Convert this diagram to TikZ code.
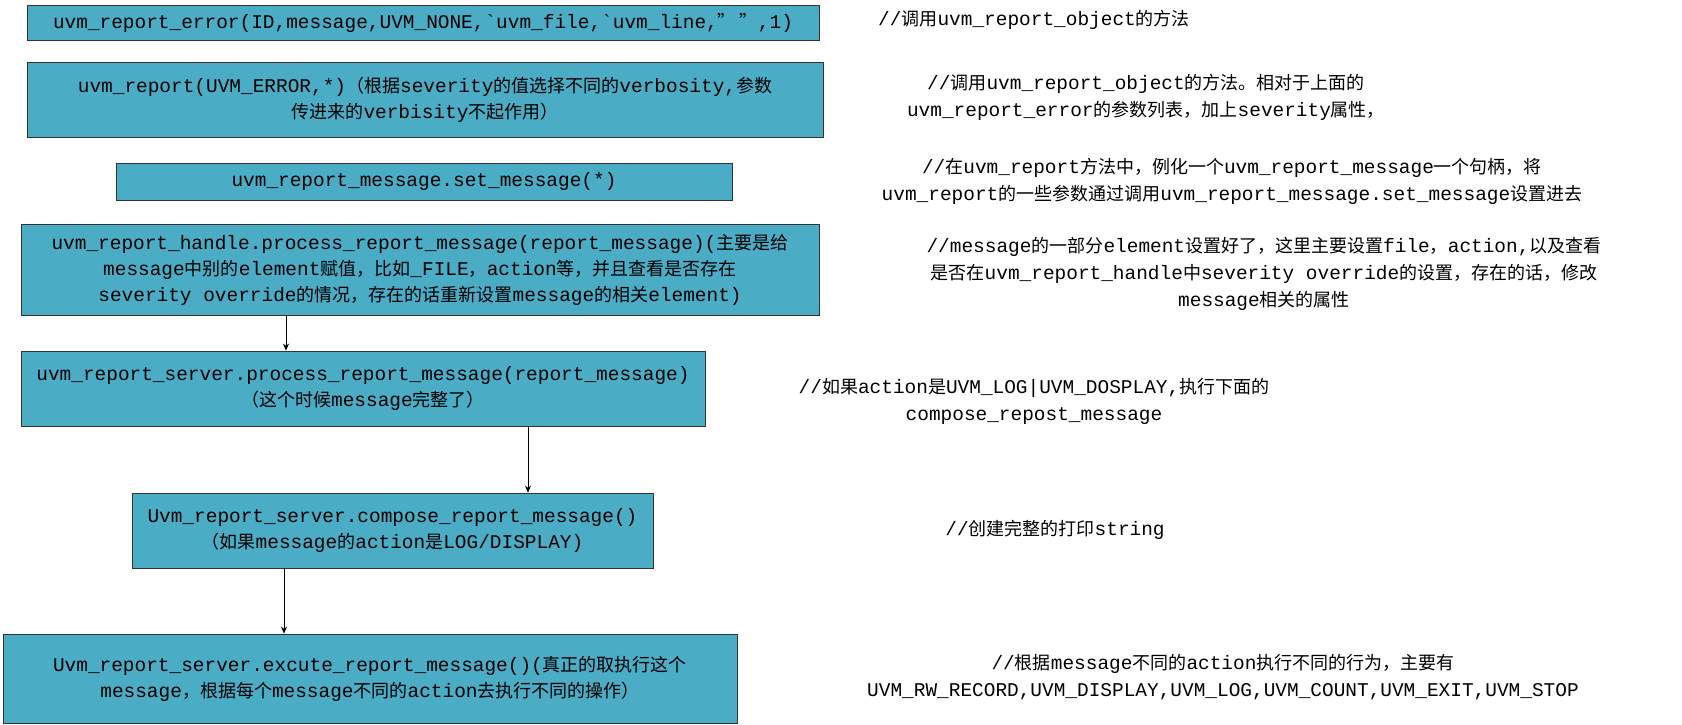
\documentclass[tikz,border=0pt]{standalone}
\usetikzlibrary{arrows.meta}
\usepackage{fontspec}
\setmonofont[Scale=1.08]{Liberation Mono}
\newfontfamily\zh{Noto Sans CJK SC}
\begin{document}
\begin{tikzpicture}[x=1pt,y=-1pt,
  box/.style={draw=black!80,line width=0.8pt,fill=boxc,inner sep=0pt,align=center,font=\ttfamily\fontsize{18}{26}\selectfont},
  note/.style={align=center,inner sep=0pt,font=\ttfamily\fontsize{18}{27}\selectfont},
  arr/.style={-{Stealth[length=7pt,width=6pt]},line width=0.8pt}]
\definecolor{boxc}{HTML}{4BACC6}
\useasboundingbox (0,0) rectangle (1682,724);
\node[box,minimum width=792,minimum height=35] (b1) at (423,22.5) {uvm\_report\_error(ID,message,UVM\_NONE,`uvm\_file,`uvm\_line,{\zh ” ”},1)};
\node[box,minimum width=796,minimum height=75] (b2) at (425,99.5) {uvm\_report(UVM\_ERROR,*){\zh （根据}severity{\zh 的值选择不同的}verbosity,{\zh 参数}\\{\zh 传进来的}verbisity{\zh 不起作用）}};
\node[box,minimum width=616,minimum height=37] (b3) at (424,181.5) {uvm\_report\_message.set\_message(*)};
\node[box,minimum width=798,minimum height=91] (b4) at (420,269.5) {uvm\_report\_handle.process\_report\_message(report\_message)({\zh 主要是给}\\message{\zh 中别的}element{\zh 赋值，比如}\_FILE{\zh ，}action{\zh 等，并且查看是否存在}\\severity override{\zh 的情况，存在的话重新设置}message{\zh 的相关}element)};
\node[box,minimum width=684,minimum height=75] (b5) at (363,388.5) {uvm\_report\_server.process\_report\_message(report\_message)\\{\zh （这个时候}message{\zh 完整了）}};
\node[box,minimum width=521,minimum height=75] (b6) at (392.5,530.5) {Uvm\_report\_server.compose\_report\_message()\\{\zh （如果}message{\zh 的}action{\zh 是}LOG/DISPLAY)};
\node[box,minimum width=734,minimum height=89] (b7) at (370,678.5) {Uvm\_report\_server.excute\_report\_message()({\zh 真正的取执行这个}\\message{\zh ，根据每个}message{\zh 不同的}action{\zh 去执行不同的操作）}};
\coordinate (x1) at (286,0);
\coordinate (x2) at (528,0);
\coordinate (x3) at (284,0);
\draw[arr] (x1 |- b4.south) -- (x1 |- b5.north);
\draw[arr] (x2 |- b5.south) -- (x2 |- b6.north);
\draw[arr] (x3 |- b6.south) -- (x3 |- b7.north);
\node[note,anchor=west] (t1) at (878,20) {//{\zh 调用}uvm\_report\_object{\zh 的方法}};
\node[note] (t2) at (1146,97) {//{\zh 调用}uvm\_report\_object{\zh 的方法。相对于上面的}\\uvm\_report\_error{\zh 的参数列表，加上}severity{\zh 属性，}};
\node[note] (t3) at (1232,181) {//{\zh 在}uvm\_report{\zh 方法中，例化一个}uvm\_report\_message{\zh 一个句柄，将}\\uvm\_report{\zh 的一些参数通过调用}uvm\_report\_message.set\_message{\zh 设置进去}};
\node[note] (t4) at (1264,274) {//message{\zh 的一部分}element{\zh 设置好了，这里主要设置}file{\zh ，}action,{\zh 以及查看}\\{\zh 是否在}uvm\_report\_handle{\zh 中}severity override{\zh 的设置，存在的话，修改}\\message{\zh 相关的属性}};
\node[note] (t5) at (1034,401) {//{\zh 如果}action{\zh 是}UVM\_LOG|UVM\_DOSPLAY,{\zh 执行下面的}\\compose\_repost\_message};
\node[note] (t6) at (1055,530) {//{\zh 创建完整的打印}string};
\node[note] (t7) at (1223,677) {//{\zh 根据}message{\zh 不同的}action{\zh 执行不同的行为，主要有}\\UVM\_RW\_RECORD,UVM\_DISPLAY,UVM\_LOG,UVM\_COUNT,UVM\_EXIT,UVM\_STOP};
\end{tikzpicture}
\end{document}
